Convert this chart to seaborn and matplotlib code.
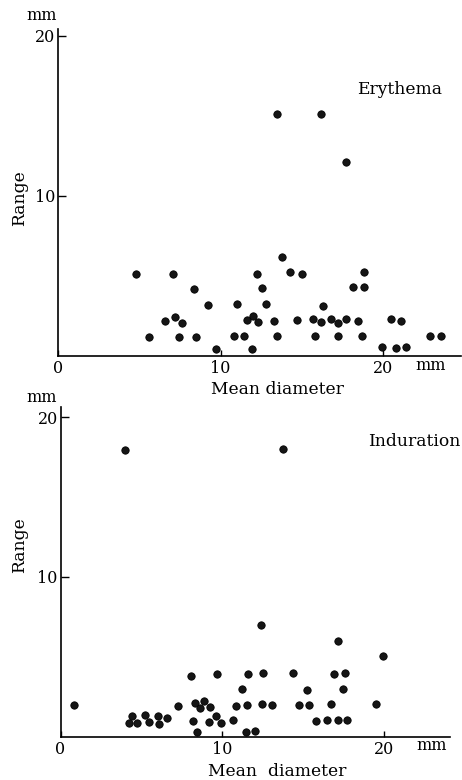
import matplotlib
matplotlib.use("Agg")
import matplotlib.pyplot as plt
import seaborn as sns
import pandas as pd

# erythema: mean diameter vs range (mm)
ery_mean = [4.8, 5.6, 6.6, 7.06, 7.18, 7.45, 7.6, 8.35, 8.47, 9.23, 9.74, 10.83, 11.0,
            11.46, 11.6, 11.92, 12.0, 12.27, 12.33, 12.53, 12.8, 13.3, 13.48, 13.77,
            14.3, 14.73, 15.0, 15.7, 15.8, 16.2, 16.3, 16.8, 17.2, 17.23, 17.7, 18.17,
            18.44, 18.7, 18.8, 18.8, 19.96, 20.5, 20.78, 21.1, 21.4, 22.9, 23.55,
            13.5, 16.2, 17.7]
ery_range = [5.1, 1.16, 2.14, 5.1, 2.4, 1.18, 2.05, 4.18, 1.16, 3.18, 0.41, 1.2, 3.2,
             1.22, 2.2, 0.41, 2.5, 5.1, 2.07, 4.2, 3.2, 2.18, 1.22, 6.16,
             5.2, 2.2, 5.1, 2.28, 1.22, 2.1, 3.1, 2.3, 2.05, 1.2, 2.26, 4.26,
             2.18, 1.22, 5.24, 4.26, 0.51, 2.28, 0.45, 2.16, 0.51, 1.22, 1.22,
             15.1, 15.1, 12.07]

# induration
ind_mean = [0.83, 4.26, 4.42, 4.73, 5.23, 5.47, 6.0, 6.1, 6.6, 7.25, 8.1, 8.2, 8.3, 8.44,
            8.65, 8.87, 9.18, 9.27, 9.64, 9.68, 9.93, 10.65, 10.87, 11.2, 11.5, 11.55,
            11.58, 12.05, 12.42, 12.48, 12.5, 13.08, 14.4, 14.73, 15.26, 15.39, 15.82,
            16.46, 16.75, 16.94, 17.14, 17.16, 17.45, 17.6, 17.74, 19.53, 19.96,
            4.0, 13.78]
ind_range = [1.97, 0.82, 1.26, 0.84, 1.32, 0.89, 1.28, 0.8, 1.13, 1.9, 3.82, 1.0, 2.07, 0.3,
             1.76, 2.2, 0.93, 1.82, 1.26, 3.9, 0.86, 1.03, 1.93, 3.0, 0.3, 1.95,
             3.9, 0.36, 6.99, 2.05, 3.99, 1.97, 3.99, 1.99, 2.9, 1.99, 0.99,
             1.03, 2.01, 3.9, 1.03, 6.01, 2.97, 4.0, 1.03, 2.05, 5.03,
             17.95, 18.03]

panels = [
    ("Erythema", ery_mean, ery_range),
    ("Induration", ind_mean, ind_range),
]

sns.set_style("white")
plt.rcParams["font.family"] = ["DejaVu Serif"]
plt.rcParams["text.color"] = "black"

W, H = 462, 780
fig = plt.figure(figsize=(W / 100, H / 100), dpi=100)

# pixel layout of each panel: origin x, origin y, px per unit x/y, axis limits, label centre
boxes = [
    (58.0, 355.5, 16.25, 16.0, 24.8, 20.4, (400, 90)),
    (60.5, 736.5, 16.17, 15.96, 24.1, 20.66, (414, 441.7)),
]

for (name, xs, ys), (x0, y0, sx, sy, xmax, ymax, lab) in zip(panels, boxes):
    ax = fig.add_axes([x0 / W, (H - y0) / H, xmax * sx / W, ymax * sy / H])
    df = pd.DataFrame({"mean": xs, "range": ys})
    sns.scatterplot(data=df, x="mean", y="range", ax=ax, s=28, color="#151515",
                    edgecolor="black", linewidth=0.6)
    ax.set_xlim(0, xmax)
    ax.set_ylim(0, ymax)
    sns.despine(ax=ax)
    for sp in ["left", "bottom"]:
        ax.spines[sp].set_linewidth(1.2)
        ax.spines[sp].set_color("black")
    ax.set_xticks([0, 10, 20])
    ax.set_yticks([10, 20])
    ax.tick_params(axis="both", direction="in", left=True, bottom=True, length=6,
                   width=1, colors="black", labelsize=11.5, pad=2)
    ax.tick_params(axis="x", length=4, pad=3)
    ax.set_xlabel("")
    ax.set_ylabel("")
    ax.text(20 + 48 / sx, -9.5 / sy, "mm", ha="center", va="center", fontsize=11.5,
            clip_on=False)
    ax.text(-(x0 - 42) / sx, 20 + 20 / sy, "mm", ha="center", va="center", fontsize=11.5,
            clip_on=False)
    ax.text((lab[0] - x0) / sx, (y0 - lab[1]) / sy, name, ha="center", va="center",
            fontsize=12.3)

fig.text(277 / W, 1 - 389 / H, "Mean diameter", ha="center", va="center", fontsize=12.3)
fig.text(277 / W, 1 - 772 / H, "Mean  diameter", ha="center", va="center", fontsize=12.3)
fig.text(20 / W, 1 - 198 / H, "Range", ha="center", va="center", fontsize=12.3, rotation=90)
fig.text(20 / W, 1 - 545 / H, "Range", ha="center", va="center", fontsize=12.3, rotation=90)

fig.savefig("out.png", dpi=100)
